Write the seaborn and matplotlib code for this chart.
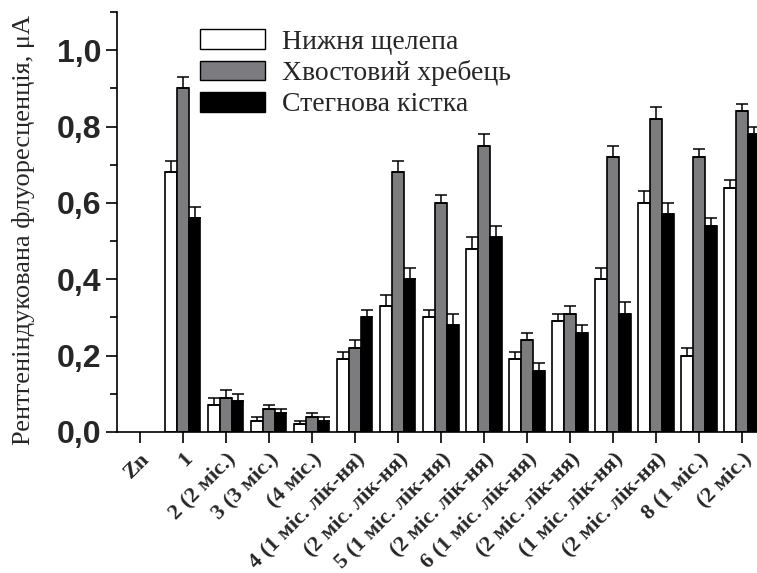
import numpy as np
import pandas as pd
import matplotlib
matplotlib.use("Agg")
import matplotlib.pyplot as plt
import seaborn as sns
from matplotlib.patches import Patch
from matplotlib.ticker import MultipleLocator

groups = ["Zn", "1", "2 (2 міс.)", "3 (3 міс.)", "(4 міс.)",
          "4 (1 міс. лік-ня)", "(2 міс. лік-ня)",
          "5 (1 міс. лік-ня)", "(2 міс. лік-ня) ",
          "6 (1 міс. лік-ня)", "(2 міс. лік-ня)  ",
          "(1 міс. лік-ня)", "(2 міс. лік-ня)   ",
          "8 (1 міс.)", "(2 міс.)"]
series = ["Нижня щелепа", "Хвостовий хребець", "Стегнова кістка"]

# mean values (Zn group has no bars)
jaw   = [0.68, 0.07, 0.03, 0.02, 0.19, 0.33, 0.30, 0.48, 0.19, 0.29, 0.40, 0.60, 0.20, 0.64]
tail  = [0.90, 0.09, 0.06, 0.04, 0.22, 0.68, 0.60, 0.75, 0.24, 0.31, 0.72, 0.82, 0.72, 0.84]
femur = [0.56, 0.08, 0.05, 0.03, 0.30, 0.40, 0.28, 0.51, 0.16, 0.26, 0.31, 0.57, 0.54, 0.78]
# upper error values
jaw_err   = [0.03, 0.02, 0.01, 0.01, 0.02, 0.03, 0.02, 0.03, 0.02, 0.02, 0.03, 0.03, 0.02, 0.02]
tail_err  = [0.03, 0.02, 0.01, 0.01, 0.02, 0.03, 0.02, 0.03, 0.02, 0.02, 0.03, 0.03, 0.02, 0.02]
femur_err = [0.03, 0.02, 0.01, 0.01, 0.02, 0.03, 0.03, 0.03, 0.02, 0.02, 0.03, 0.03, 0.02, 0.02]

colors = ["#ffffff", "#7b7b80", "#000000"]

bar_groups = groups[1:]
rows = []
for vals, errs, name in [(jaw, jaw_err, series[0]), (tail, tail_err, series[1]),
                         (femur, femur_err, series[2])]:
    for g, v, e in zip(bar_groups, vals, errs):
        rows.append({"group": g, "series": name, "value": v, "err": e})
df = pd.DataFrame(rows)

sns.set_theme(style="ticks")
plt.rcParams["font.family"] = ["Liberation Serif", "DejaVu Serif"]

fig = plt.figure(figsize=(7.57, 5.73), dpi=100)
ax = fig.add_axes([117 / 757, 1 - 432 / 573, 640 / 757, 420 / 573])

sns.barplot(data=df, x="group", y="value", hue="series", order=groups,
            hue_order=series, palette=colors, width=0.82, errorbar=None,
            edgecolor="black", linewidth=1.2, ax=ax, legend=False)

# one-sided error bars on top of each bar
for cont, name in zip(ax.containers, series):
    sub = df[df["series"] == name].set_index("group")
    for patch, g in zip(cont.patches, bar_groups):
        x = patch.get_x() + patch.get_width() / 2
        v = sub.loc[g, "value"]
        e = sub.loc[g, "err"]
        ax.errorbar(x, v, yerr=[[0], [e]], fmt="none", ecolor="black",
                    elinewidth=1.1, capsize=4, capthick=1.1)

ax.set_ylim(0, 1.1)
ax.set_xlim(-0.53, 14.35)
ax.yaxis.set_minor_locator(MultipleLocator(0.1))
ax.set_yticks([0, 0.2, 0.4, 0.6, 0.8, 1.0])
ax.set_yticklabels(["0,0", "0,2", "0,4", "0,6", "0,8", "1,0"],
                   fontfamily="Liberation Sans", fontweight="bold", fontsize=23)
ax.set_xticks(range(len(groups)))
ax.set_xticklabels([g.strip() for g in groups], rotation=45, ha="right",
                   rotation_mode="anchor", fontsize=16, fontweight="bold")
ax.tick_params(axis="both", which="major", direction="out", length=8, width=1.2,
               color="black")
ax.tick_params(axis="y", which="minor", direction="out", length=5, width=1.2,
               color="black")
ax.tick_params(axis="x", pad=4)
ax.tick_params(axis="y", pad=3)
ax.set_xlabel("")
ax.set_ylabel("Рентгеніндукована флуоресценція, μA", fontsize=19)
ax.yaxis.set_label_coords(-0.128, 0.48)

for side in ["top", "right"]:
    ax.spines[side].set_visible(False)
for side in ["left", "bottom"]:
    ax.spines[side].set_linewidth(1.2)
    ax.spines[side].set_color("black")

handles = [Patch(facecolor=c, edgecolor="black", linewidth=1.0) for c in colors]
fig.legend(handles, series, loc="upper left",
           bbox_to_anchor=(200 / 757, 1 - 29 / 573),
           frameon=False, fontsize=20, handlelength=2.35, handleheight=0.72,
           handletextpad=0.6, labelspacing=0.2, borderpad=0, borderaxespad=0)

fig.savefig("out.png", dpi=100)
